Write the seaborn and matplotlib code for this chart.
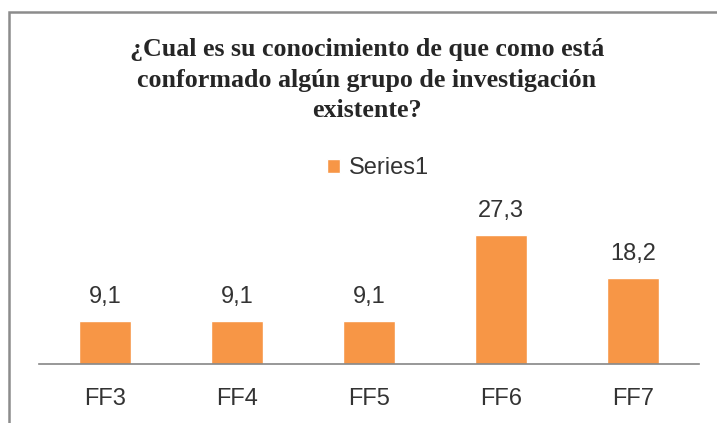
import seaborn as sns
import matplotlib.pyplot as plt
from matplotlib.patches import Rectangle

# datos del gráfico
categorias = ["FF3", "FF4", "FF5", "FF6", "FF7"]
valores = [9.1, 9.1, 9.1, 27.3, 18.2]
etiquetas = ["9,1", "9,1", "9,1", "27,3", "18,2"]

sns.set_style("white")
plt.rcParams["font.family"] = ["Liberation Sans", "DejaVu Sans"]

fig = plt.figure(figsize=(7.17, 4.23), dpi=100)
ax = fig.add_axes([39 / 717, 1 - 364 / 423, 660 / 717, 174 / 423])

sns.barplot(x=categorias, y=valores, color="#F79646", width=0.4,
            saturation=1, label="Series1", ax=ax)

ax.set_ylim(0, 36.8)
ax.set_xlim(-0.5, 4.5)
ax.set_yticks([])
ax.set_xlabel("")
ax.set_ylabel("")
for lado in ["top", "right", "left"]:
    ax.spines[lado].set_visible(False)
ax.spines["bottom"].set_color("#868686")
ax.spines["bottom"].set_linewidth(1.2)
ax.tick_params(axis="x", length=0, pad=17, labelsize=17, labelcolor="#333333")

for i, (v, t) in enumerate(zip(valores, etiquetas)):
    ax.annotate(t, (i, v), xytext=(0, 9), textcoords="offset points",
                ha="center", va="bottom", fontsize=17, color="#333333",
                annotation_clip=False)

ax.legend(loc="center", bbox_to_anchor=(378 / 717, 1 - 168 / 423),
          bbox_transform=fig.transFigure, frameon=False, fontsize=17,
          handlelength=0.55, handleheight=0.55, handletextpad=0.4,
          labelcolor="#333333")

fig.text(367 / 717, 1 - 80 / 423,
         "¿Cual es su conocimiento de que como está\n"
         "conformado algún grupo de investigación\nexistente?",
         ha="center", va="center", fontsize=18.7, fontweight="bold",
         family=["Liberation Serif", "DejaVu Serif"], linespacing=1.4)

# borde del área del gráfico
fig.patches.append(Rectangle((8.5 / 717, -0.2), 1.2, 1 - 12.5 / 423 + 0.2,
                             transform=fig.transFigure, fill=False,
                             edgecolor="#8C8C8C", linewidth=1.8))

fig.savefig("out.png", dpi=100)
